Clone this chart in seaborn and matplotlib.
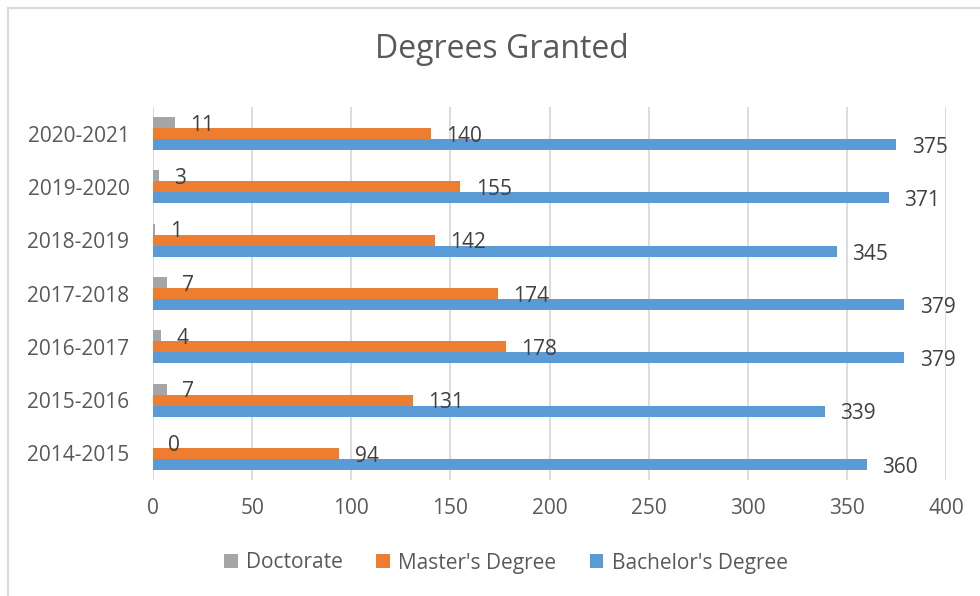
import matplotlib
matplotlib.use("Agg")
import matplotlib.pyplot as plt
import seaborn as sns
import pandas as pd
from matplotlib.patches import Rectangle

years = ["2014-2015", "2015-2016", "2016-2017", "2017-2018", "2018-2019", "2019-2020", "2020-2021"]
doctorate = [0, 7, 4, 7, 1, 3, 11]
masters = [94, 131, 178, 174, 142, 155, 140]
bachelors = [360, 339, 379, 379, 345, 371, 375]
series = ["Doctorate", "Master's Degree", "Bachelor's Degree"]
colors = ["#A5A5A5", "#ED7D31", "#5B9BD5"]
xticks = [0, 50, 100, 150, 200, 250, 300, 350, 400]

rows = []
for y, d, m, b in zip(years, doctorate, masters, bachelors):
    rows.append((y, series[0], d))
    rows.append((y, series[1], m))
    rows.append((y, series[2], b))
df = pd.DataFrame(rows, columns=["Year", "Type", "Count"])

sns.set_style("white")
plt.rcParams['font.family'] = ['Open Sans', 'DejaVu Sans']
txt = "#595959"

fig = plt.figure(figsize=(9.8, 5.96), dpi=100)
ax = fig.add_axes([153/980, 1-480/596, (946-153)/980, (480-107)/596])

order = years[::-1]
sns.barplot(data=df, y="Year", x="Count", hue="Type", order=order, hue_order=series,
            palette=colors, orient="h", width=0.62, ax=ax, saturation=1,
            edgecolor="none", linewidth=0, legend=True)

for cont in ax.containers:
    labels = [f"{int(v)}" for v in cont.datavalues]
    texts = ax.bar_label(cont, labels=labels, padding=11, fontsize=15, color="#404040")
    for t in texts:
        t.xyann = (11, -2)

ax.set_xlim(0, 400)
ax.set_xticks(xticks)
ax.set_xticklabels([str(t) for t in xticks])
ax.set_ylim(len(years) - 0.5, -0.5)
ax.xaxis.grid(True, color="#D9D9D9", linewidth=1.3)
ax.set_axisbelow(True)
for s in ax.spines.values():
    s.set_visible(False)
ax.tick_params(axis="both", length=0, labelsize=15, colors=txt)
ax.tick_params(axis="y", pad=17)
ax.tick_params(axis="x", pad=13)
ax.set_xlabel("")
ax.set_ylabel("")

leg = ax.legend(loc="center", ncol=3, frameon=False,
                fontsize=15, handlelength=0.65, handleheight=0.65, columnspacing=1.6, handletextpad=0.4,
                labelcolor=txt)
leg.set_bbox_to_anchor((506/980, 1-563/596), transform=fig.transFigure)

fig.text(502/980, 1-50/596, "Degrees Granted", ha="center", va="center", fontsize=23, color=txt)

fig.patches.append(Rectangle((8/980, -0.05), 1.1, 1 - 8/596 + 0.05, transform=fig.transFigure,
                             fill=False, edgecolor="#D9D9D9", linewidth=1.5, figure=fig))

fig.savefig("out.png", dpi=100)
